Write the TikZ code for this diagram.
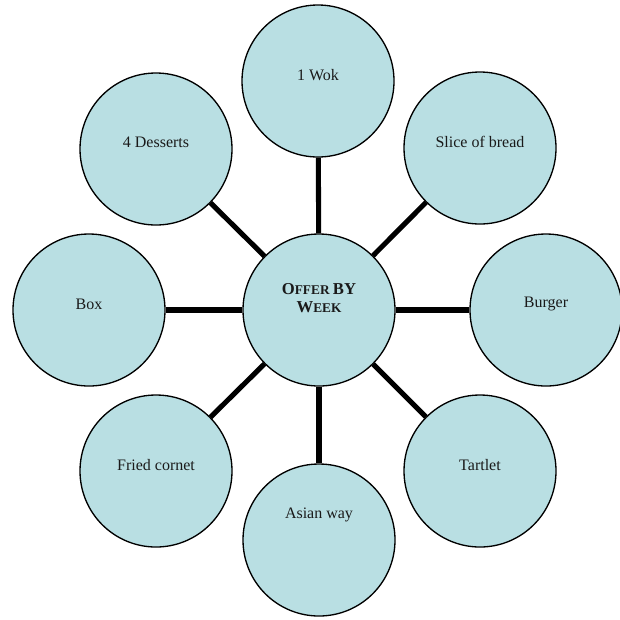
\documentclass[tikz,border=0pt]{standalone}
\usepackage{fontspec}
\setmainfont{Liberation Serif}
\definecolor{bubble}{HTML}{B9DFE3}
\definecolor{ink}{HTML}{1A1A1A}
\begin{document}
\begin{tikzpicture}[x=0.75pt,y=-0.75pt,
  bubblenode/.style={circle,draw=black,line width=1pt,fill=bubble,minimum size=114pt,inner sep=0pt},
  labeltext/.style={font=\fontsize{12}{14}\selectfont,text=ink,inner sep=0pt},
  conn/.style={line width=3.8pt,black}]
\useasboundingbox (0,0) rectangle (620,619);
\node[bubblenode] (c) at (319,310) {};
\node[bubblenode] (wok) at (318,81) {};
\node[bubblenode] (bread) at (480,148) {};
\node[bubblenode] (burger) at (546,310) {};
\node[bubblenode] (tartlet) at (480,471) {};
\node[bubblenode] (asian) at (319,540) {};
\node[bubblenode] (cornet) at (156,471) {};
\node[bubblenode] (box) at (89,310) {};
\node[bubblenode] (desserts) at (156,149) {};
\foreach \n in {wok,bread,burger,tartlet,asian,cornet,box,desserts}
  \draw[conn] (c) -- (\n);
% labels
\node[labeltext] (twok) at (318,75) {1 Wok};
\node[labeltext] (tbread) at (480,142) {Slice of bread};
\node[labeltext] (tburger) at (546,304) {Burger};
\node[labeltext] (ttartlet) at (480,465) {Tartlet};
\node[labeltext] (tasian) at (319,515) {Asian way};
\node[labeltext] (tcornet) at (156,465) {Fried cornet};
\node[labeltext] (tbox) at (89,304) {Box};
\node[labeltext] (tdesserts) at (156,142) {4 Desserts};
\node[text=ink,inner sep=0pt,align=center,font=\bfseries] (tc) at (319,298)
  {{\fontsize{12.5}{15}\selectfont O}{\fontsize{10}{15}\selectfont FFER} {\fontsize{12.5}{15}\selectfont BY}\\[1.5pt]
   {\fontsize{12.5}{15}\selectfont W}{\fontsize{10}{15}\selectfont EEK}};
\end{tikzpicture}
\end{document}
